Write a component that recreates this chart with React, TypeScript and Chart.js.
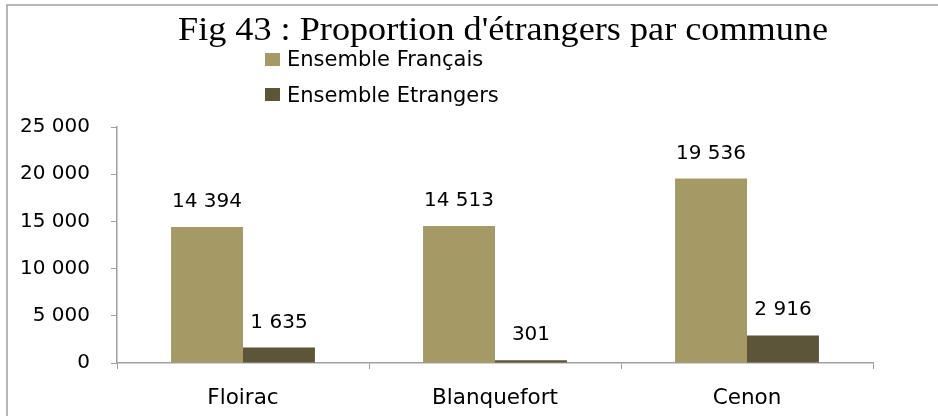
import React, { useEffect, useRef } from "react";
import { Chart, registerables } from "chart.js";

Chart.register(...registerables);

const titleText = "Fig 43 : Proportion d'étrangers par commune";
const categories = ["Floirac", "Blanquefort", "Cenon"];
const seriesNames = ["Ensemble Français", "Ensemble Etrangers"];
const francais = [14394, 14513, 19536];
const etrangers = [1635, 301, 2916];
const colors = ["#A59A66", "#5C5539"];
const yTicks = [0, 5000, 10000, 15000, 20000, 25000];

const SANS = "'DejaVu Sans', sans-serif";
const fmt = (v: number) => String(v).replace(/\B(?=(\d{3})+(?!\d))/g, " ");

const decorPlugin = {
  id: "decor",
  beforeDraw(chart: any) {
    const ctx = chart.ctx;
    ctx.save();
    ctx.fillStyle = "#ffffff";
    ctx.fillRect(0, 0, chart.width, chart.height);
    ctx.strokeStyle = "#A0A0A0";
    ctx.lineWidth = 1.5;
    ctx.beginPath();
    ctx.moveTo(7, chart.height);
    ctx.lineTo(7, 5);
    ctx.lineTo(chart.width, 5);
    ctx.stroke();
    ctx.restore();
  },
  afterDraw(chart: any) {
    const ctx = chart.ctx;
    ctx.save();
    // title (slightly widened like the reference)
    ctx.fillStyle = "#000000";
    ctx.font = "33px 'Liberation Serif', serif";
    ctx.textAlign = "center";
    ctx.textBaseline = "alphabetic";
    const tw = ctx.measureText(titleText).width;
    const sx = 650 / tw;
    ctx.save();
    ctx.translate(503, 40);
    ctx.scale(sx, 1);
    ctx.fillText(titleText, 0, 0);
    ctx.restore();
    // legend
    ctx.font = "21px " + SANS;
    ctx.textAlign = "left";
    ctx.textBaseline = "middle";
    const sqY = [60, 95];
    const txY = [61, 97];
    chart.data.datasets.forEach((ds: any, i: number) => {
      ctx.fillStyle = ds.backgroundColor;
      ctx.fillRect(265, sqY[i] - 7, 15, 13);
      ctx.fillStyle = "#000000";
      ctx.fillText(ds.label, 287, txY[i]);
    });
    // data labels
    ctx.font = "20px " + SANS;
    ctx.textAlign = "center";
    ctx.textBaseline = "alphabetic";
    chart.data.datasets.forEach((ds: any, i: number) => {
      const meta = chart.getDatasetMeta(i);
      meta.data.forEach((bar: any, j: number) => {
        ctx.fillText(fmt(ds.data[j]), bar.x, bar.y - 20);
      });
    });
    ctx.restore();
  },
};

export default function App() {
  const ref = useRef<HTMLCanvasElement | null>(null);
  useEffect(() => {
    document.body.style.margin = "0";
    const chart = new Chart(ref.current as HTMLCanvasElement, {
      type: "bar",
      data: {
        labels: categories,
        datasets: [
          { label: seriesNames[0], data: francais, backgroundColor: colors[0], categoryPercentage: 0.571, barPercentage: 1 },
          { label: seriesNames[1], data: etrangers, backgroundColor: colors[1], categoryPercentage: 0.571, barPercentage: 1 },
        ],
      },
      options: {
        responsive: false,
        animation: false,
        devicePixelRatio: 1,
        layout: { padding: { top: 127, right: 65, bottom: 0, left: 0 } },
        plugins: { legend: { display: false }, title: { display: false }, tooltip: { enabled: false } },
        scales: {
          x: {
            grid: { display: true, drawOnChartArea: false, drawTicks: true, tickLength: 6, color: "#A0A0A0", offset: true },
            border: { display: true, color: "#A0A0A0", width: 1.5 },
            ticks: { color: "#000000", font: { family: SANS, size: 21.5 }, padding: 17 },
            afterFit: (s: any) => { s.height = 53; },
          },
          y: {
            min: 0,
            max: 25000,
            afterBuildTicks: (s: any) => { s.ticks = yTicks.map((v) => ({ value: v })); },
            grid: { display: true, drawOnChartArea: false, drawTicks: true, tickLength: 6, color: "#A0A0A0" },
            border: { display: true, color: "#A0A0A0", width: 1.5 },
            ticks: { color: "#000000", font: { family: SANS, size: 20 }, padding: 21, callback: (v: any) => fmt(Number(v)) },
            afterFit: (s: any) => { s.width = 117; },
          },
        },
      },
      plugins: [decorPlugin],
    });
    return () => chart.destroy();
  }, []);
  return (
    <div style={{ width: 938, height: 416 }}>
      <canvas ref={ref} width={938} height={416} style={{ display: "block" }} />
    </div>
  );
}
